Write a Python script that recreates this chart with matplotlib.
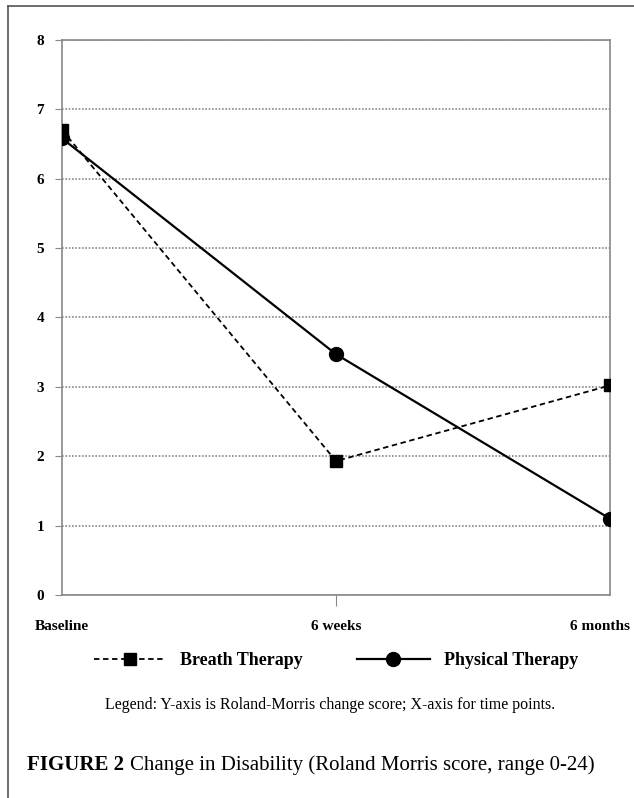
import matplotlib.pyplot as plt
from matplotlib.lines import Line2D
from matplotlib.transforms import ScaledTranslation

time_points = ['Baseline', '6 weeks', '6 months']
breath = [6.7, 1.93, 3.02]
physical = [6.58, 3.47, 1.1]
y_ticks = [0, 1, 2, 3, 4, 5, 6, 7, 8]

fig = plt.figure(figsize=(6.34, 7.98), dpi=100)
ax = fig.add_axes([0.098, 0.2544, 0.864, 0.6956])

x = range(len(time_points))
ax.plot(x, breath, color='black', linestyle=(0, (3, 2)), linewidth=1.3,
        marker='s', markersize=9, label='Breath Therapy', zorder=3)
ax.plot(x, physical, color='black', linestyle='-', linewidth=1.6,
        marker='o', markersize=10, label='Physical Therapy', zorder=3)

ax.set_xlim(0, 2)
ax.set_ylim(0, 8)
ax.set_yticks(y_ticks)
ax.set_xticks(list(x))
ax.set_xticklabels(time_points, fontsize=11, fontweight='bold', family='Liberation Serif')
ax.set_yticklabels([str(v) for v in y_ticks], fontsize=11, fontweight='bold', family='Liberation Serif')
ax.yaxis.grid(True, color='#888888', linestyle=(0, (1, 1)), linewidth=1.2)
for s in ax.spines.values():
    s.set_color('#888888')
    s.set_linestyle((0, (1, 1)))
    s.set_linewidth(1.2)
ax.tick_params(axis='y', length=5, color='#888888', pad=8)
ax.tick_params(axis='x', length=8, color='#888888', pad=10)
ax.xaxis.get_majorticklines()[0].set_visible(False)
ax.xaxis.get_majorticklines()[4].set_visible(False)
# last label sits a bit inward so it stays on the page
lab = ax.get_xticklabels()[-1]
lab.set_transform(lab.get_transform() + ScaledTranslation(-0.1, 0, fig.dpi_scale_trans))

handles = [Line2D([0], [0], color='black', linestyle=(0, (3, 2)), linewidth=1.3, marker='s', markersize=9),
           Line2D([0], [0], color='black', linestyle='-', linewidth=1.6, marker='o', markersize=10)]
fig.legend(handles, ['Breath Therapy', 'Physical Therapy'], loc='center', bbox_to_anchor=(0.53, 0.172),
           ncol=2, frameon=False, prop={'family': 'Liberation Serif', 'weight': 'bold', 'size': 13},
           handlelength=4, columnspacing=3)

fig.text(0.52, 0.117, 'Legend: Y-axis is Roland-Morris change score; X-axis for time points.',
         ha='center', va='center', fontsize=11.5, family='Liberation Serif')

t1 = fig.text(0.043, 0.041, 'FIGURE 2 ', ha='left', va='center', fontsize=15,
              family='Liberation Serif', fontweight='bold')
r = fig.canvas.get_renderer()
bb = t1.get_window_extent(renderer=r)
fig.text(bb.x1 / fig.bbox.width, 0.041, 'Change in Disability (Roland Morris score, range 0-24)',
         ha='left', va='center', fontsize=15, family='Liberation Serif')

fig.add_artist(Line2D([0.013, 0.013], [0, 0.993], color='#555555', linewidth=1.2))
fig.add_artist(Line2D([0.013, 1], [0.993, 0.993], color='#555555', linewidth=1.2))

fig.savefig('out.png', dpi=100)
